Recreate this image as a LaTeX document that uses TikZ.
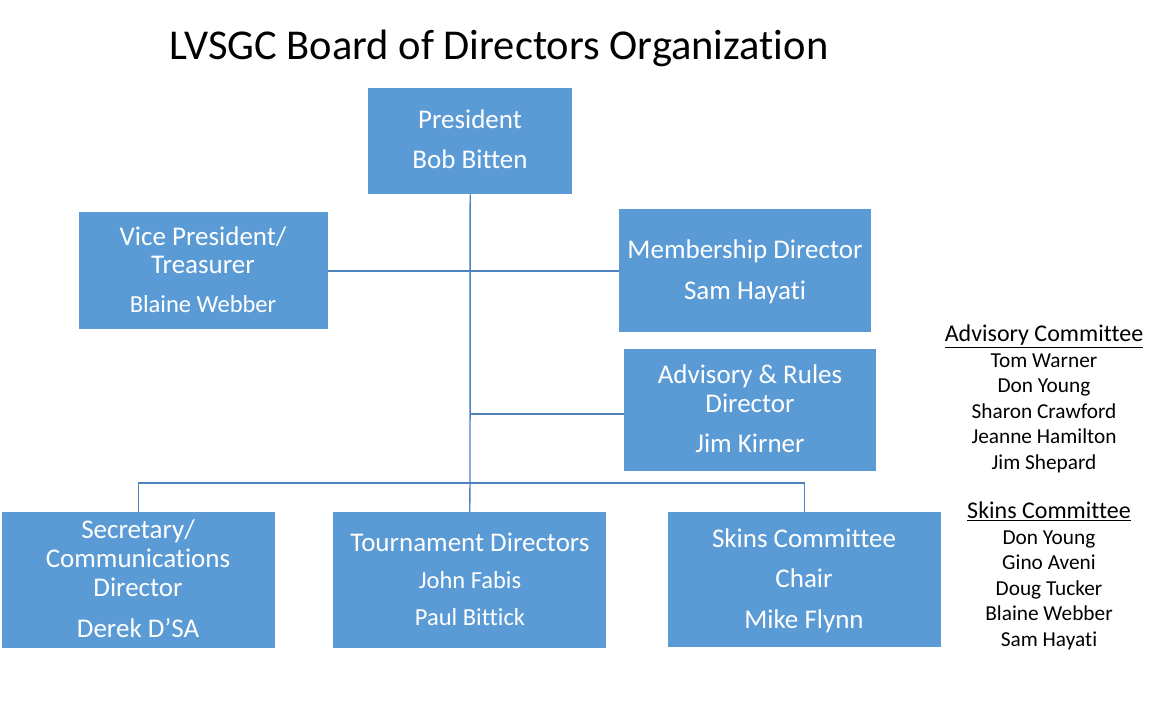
\documentclass[tikz,border=0pt]{standalone}
\usepackage{fontspec}
\setmainfont[Ligatures=NoCommon]{Carlito}
\definecolor{boxblue}{HTML}{5B9BD5}
\definecolor{linkblue}{HTML}{4F81BD}
\begin{document}
\begin{tikzpicture}[x=1pt,y=-1pt,
  box/.style={fill=boxblue,draw=none,inner sep=0pt,anchor=north west},
  txt/.style={inner sep=0pt,anchor=center,text depth=0pt},
  bt/.style={txt,text=white,text height=17.4pt,font=\fontsize{27}{27}\selectfont},
  bs/.style={txt,text=white,text height=15.8pt,font=\fontsize{24.5}{24.5}\selectfont},
  lt/.style={txt,text=black,text height=13.7pt,font=\fontsize{21.3}{21.3}\selectfont},
  lh/.style={txt,text=black,text height=15.5pt,font=\fontsize{24}{24}\selectfont},
  link/.style={draw=linkblue,line width=1.4pt}]
\useasboundingbox (0,0) rectangle (1159,723);
\fill[white] (0,0) rectangle (1159,723);

\node[txt,text height=27.4pt,font=\fontsize{42.5}{42.5}\selectfont] (title) at (499,46) {LVSGC Board of Directors Organization};

% boxes
\node[box,minimum width=204pt,minimum height=106pt] (pres) at (368,88) {};
\node[box,minimum width=249pt,minimum height=117pt] (vp) at (79,212) {};
\node[box,minimum width=252pt,minimum height=123pt] (mem) at (619,209) {};
\node[box,minimum width=252pt,minimum height=122pt] (adv) at (624,349) {};
\node[box,minimum width=273pt,minimum height=136pt] (sec) at (2,512) {};
\node[box,minimum width=273pt,minimum height=136pt] (tour) at (333,512) {};
\node[box,minimum width=273pt,minimum height=135pt] (skins) at (668,512) {};

% connectors
\coordinate (hub) at (470,483);
\coordinate (hubvp) at (470,271);
\coordinate (hubadv) at (470,414);
\draw[link] (pres.south) -- (hub);
\draw[link] (vp.east |- hubvp) -- (mem.west |- hubvp);
\draw[link] (hubadv) -- (adv.west |- hubadv);
\draw[link] (sec.north) |- (hub) -| (skins.north);
\draw[link] (hub) -- (tour.north);

% box texts
\node[bt] (t1) at (470,120) {President};
\node[bt] (t2) at (470,160) {Bob Bitten};

\node[bt] (t3) at (203,237) {Vice President/};
\node[bt] (t4) at (203,265) {Treasurer};
\node[bs] (t5) at (203,305) {Blaine Webber};

\node[bt] (t6) at (745,250) {Membership Director};
\node[bt] (t7) at (745,291) {Sam Hayati};

\node[bt] (t8) at (750,375) {Advisory \& Rules};
\node[bt] (t9) at (750,404) {Director};
\node[bt] (t10) at (750,444) {Jim Kirner};

\node[bt] (t11) at (138,530) {Secretary/};
\node[bt] (t12) at (138,559) {Communications};
\node[bt] (t13) at (138,588) {Director};
\node[bt] (t14) at (138,629) {Derek D’SA};

\node[bt] (t15) at (470,543) {Tournament Directors};
\node[bs] (t16) at (470,581) {John Fabis};
\node[bs] (t17) at (470,618) {Paul Bittick};

\node[bt] (t18) at (804,539) {Skins Committee};
\node[bt] (t19) at (804,579) {Chair};
\node[bt] (t20) at (804,620) {Mike Flynn};

% right lists
\node[lh] (ah) at (1044,334) {\underline{Advisory Committee}};
\node[lt] (a1) at (1044,361) {Tom Warner};
\node[lt] (a2) at (1044,386) {Don Young};
\node[lt] (a3) at (1044,412) {Sharon Crawford};
\node[lt] (a4) at (1044,437) {Jeanne Hamilton};
\node[lt] (a5) at (1044,463) {Jim Shepard};

\node[lh] (sh) at (1049,511) {\underline{Skins Committee}};
\node[lt] (s1) at (1049,538) {Don Young};
\node[lt] (s2) at (1049,563) {Gino Aveni};
\node[lt] (s3) at (1049,589) {Doug Tucker};
\node[lt] (s4) at (1049,614) {Blaine Webber};
\node[lt] (s5) at (1049,640) {Sam Hayati};
\end{tikzpicture}
\end{document}
